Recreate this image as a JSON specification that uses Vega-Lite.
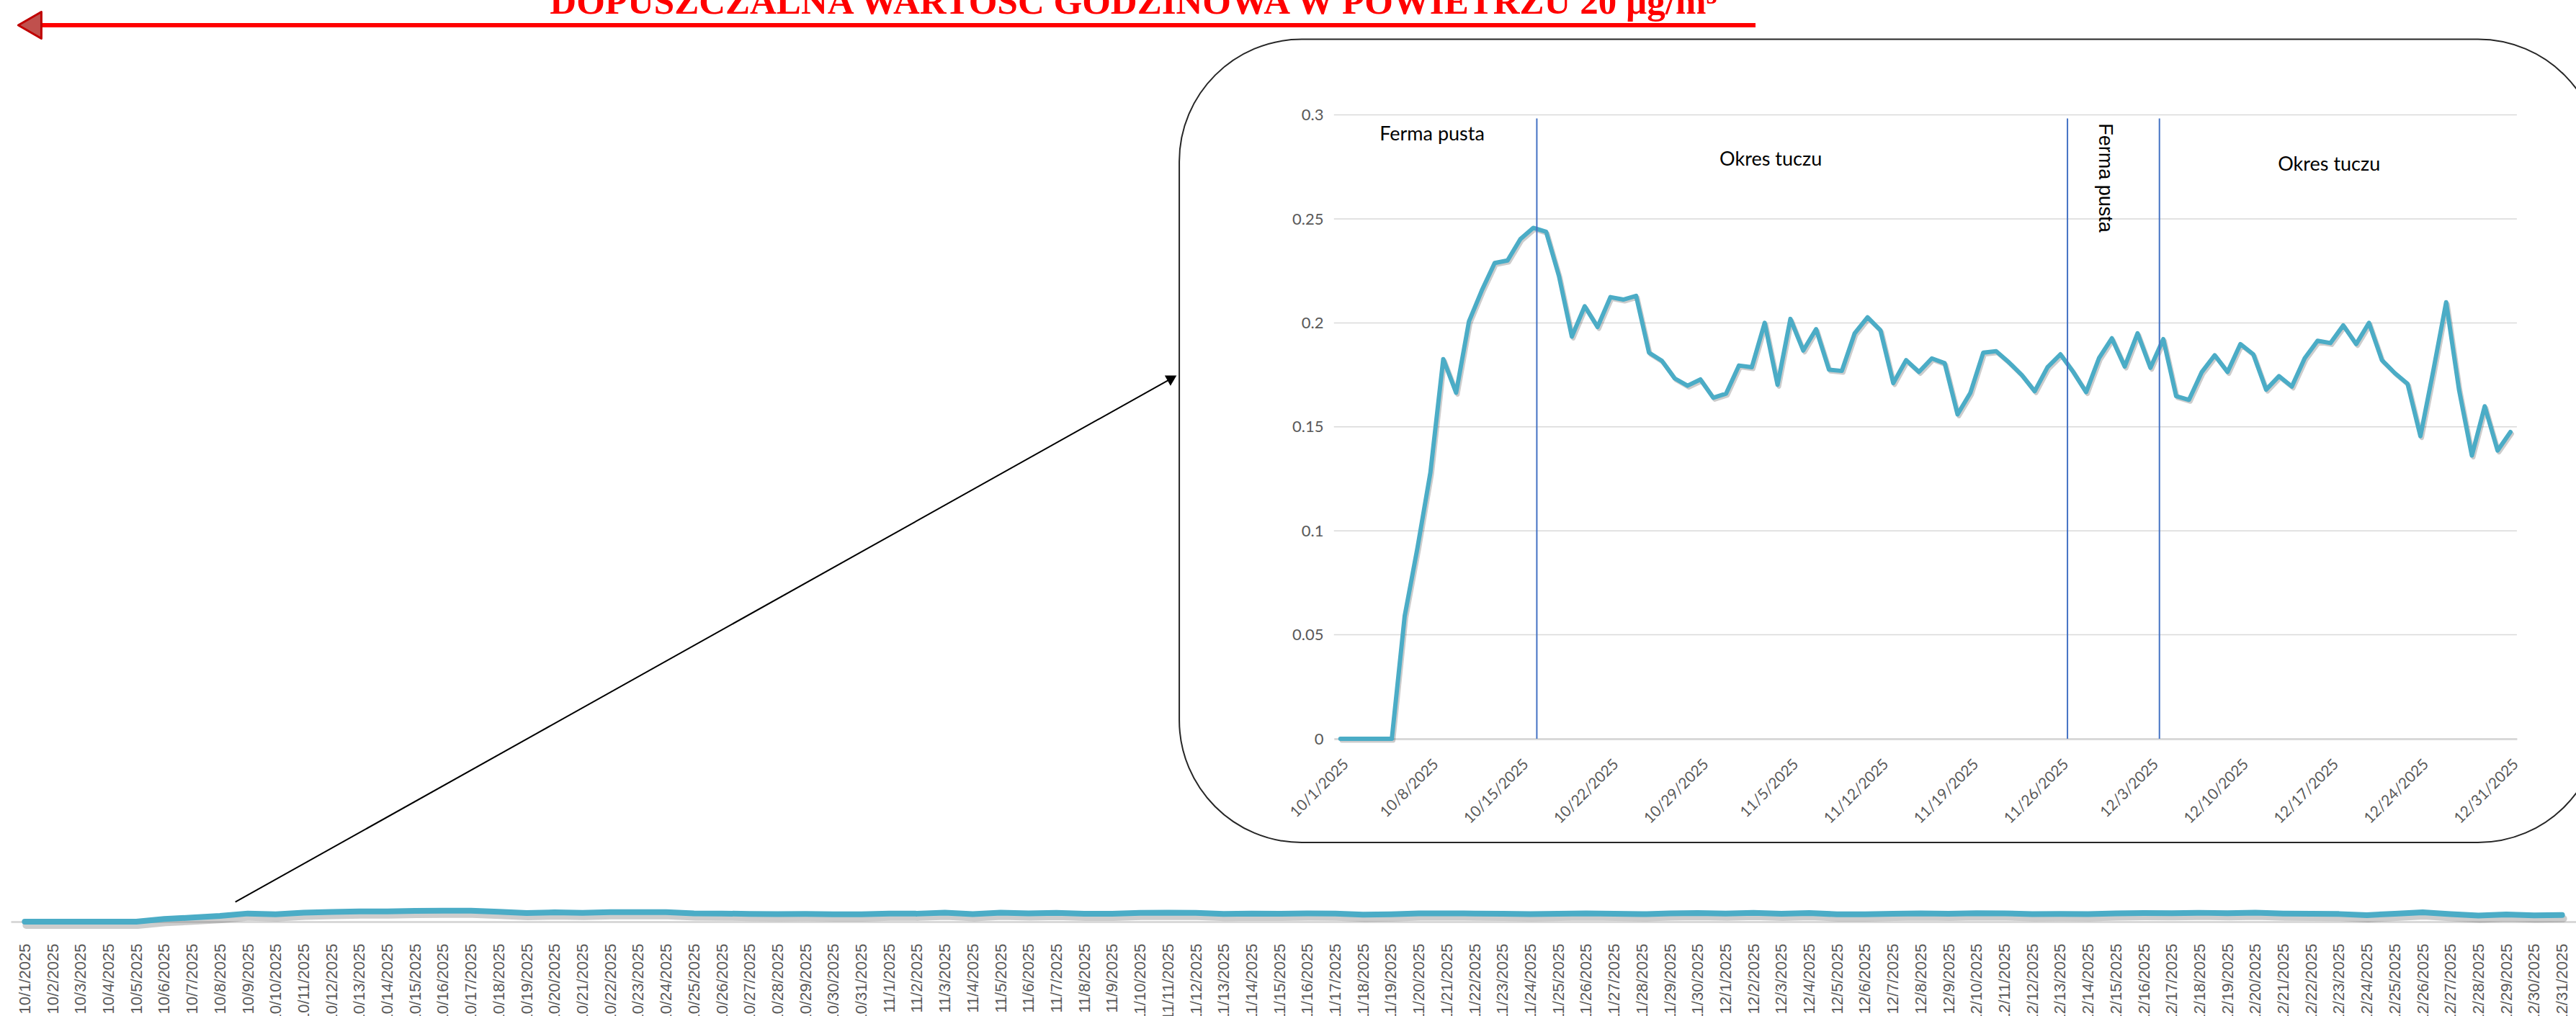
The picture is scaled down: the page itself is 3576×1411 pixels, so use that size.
{
  "$schema": "https://vega.github.io/schema/vega-lite/v6.json",
  "width": 3576,
  "height": 1411,
  "autosize": {"type": "none"},
  "padding": 0,
  "background": "white",
  "config": {"view": {"stroke": null}},
  "datasets": {
    "series": [
      {"date": "2025-10-01", "value": 0},
      {"date": "2025-10-02", "value": 0},
      {"date": "2025-10-03", "value": 0},
      {"date": "2025-10-04", "value": 0},
      {"date": "2025-10-05", "value": 0},
      {"date": "2025-10-06", "value": 0.059},
      {"date": "2025-10-07", "value": 0.092},
      {"date": "2025-10-08", "value": 0.128},
      {"date": "2025-10-09", "value": 0.1826},
      {"date": "2025-10-10", "value": 0.1664},
      {"date": "2025-10-11", "value": 0.2007},
      {"date": "2025-10-12", "value": 0.2156},
      {"date": "2025-10-13", "value": 0.2288},
      {"date": "2025-10-14", "value": 0.230},
      {"date": "2025-10-15", "value": 0.2403},
      {"date": "2025-10-16", "value": 0.2457},
      {"date": "2025-10-17", "value": 0.2438},
      {"date": "2025-10-18", "value": 0.2225},
      {"date": "2025-10-19", "value": 0.1934},
      {"date": "2025-10-20", "value": 0.208},
      {"date": "2025-10-21", "value": 0.198},
      {"date": "2025-10-22", "value": 0.2124},
      {"date": "2025-10-23", "value": 0.2112},
      {"date": "2025-10-24", "value": 0.213},
      {"date": "2025-10-25", "value": 0.1857},
      {"date": "2025-10-26", "value": 0.1818},
      {"date": "2025-10-27", "value": 0.1733},
      {"date": "2025-10-28", "value": 0.1698},
      {"date": "2025-10-29", "value": 0.1728},
      {"date": "2025-10-30", "value": 0.164},
      {"date": "2025-10-31", "value": 0.166},
      {"date": "2025-11-01", "value": 0.1795},
      {"date": "2025-11-02", "value": 0.1787},
      {"date": "2025-11-03", "value": 0.200},
      {"date": "2025-11-04", "value": 0.1702},
      {"date": "2025-11-05", "value": 0.2019},
      {"date": "2025-11-06", "value": 0.1867},
      {"date": "2025-11-07", "value": 0.197},
      {"date": "2025-11-08", "value": 0.1775},
      {"date": "2025-11-09", "value": 0.1769},
      {"date": "2025-11-10", "value": 0.195},
      {"date": "2025-11-11", "value": 0.2027},
      {"date": "2025-11-12", "value": 0.1965},
      {"date": "2025-11-13", "value": 0.171},
      {"date": "2025-11-14", "value": 0.1821},
      {"date": "2025-11-15", "value": 0.1764},
      {"date": "2025-11-16", "value": 0.1829},
      {"date": "2025-11-17", "value": 0.1806},
      {"date": "2025-11-18", "value": 0.156},
      {"date": "2025-11-19", "value": 0.1664},
      {"date": "2025-11-20", "value": 0.1857},
      {"date": "2025-11-21", "value": 0.1864},
      {"date": "2025-11-22", "value": 0.181},
      {"date": "2025-11-23", "value": 0.1749},
      {"date": "2025-11-24", "value": 0.1671},
      {"date": "2025-11-25", "value": 0.1787},
      {"date": "2025-11-26", "value": 0.1849},
      {"date": "2025-11-27", "value": 0.1764},
      {"date": "2025-11-28", "value": 0.1667},
      {"date": "2025-11-29", "value": 0.183},
      {"date": "2025-11-30", "value": 0.1926},
      {"date": "2025-12-01", "value": 0.179},
      {"date": "2025-12-02", "value": 0.195},
      {"date": "2025-12-03", "value": 0.1784},
      {"date": "2025-12-04", "value": 0.1922},
      {"date": "2025-12-05", "value": 0.1648},
      {"date": "2025-12-06", "value": 0.163},
      {"date": "2025-12-07", "value": 0.1764},
      {"date": "2025-12-08", "value": 0.1844},
      {"date": "2025-12-09", "value": 0.1764},
      {"date": "2025-12-10", "value": 0.1898},
      {"date": "2025-12-11", "value": 0.1849},
      {"date": "2025-12-12", "value": 0.1679},
      {"date": "2025-12-13", "value": 0.1744},
      {"date": "2025-12-14", "value": 0.1694},
      {"date": "2025-12-15", "value": 0.183},
      {"date": "2025-12-16", "value": 0.1914},
      {"date": "2025-12-17", "value": 0.1903},
      {"date": "2025-12-18", "value": 0.1988},
      {"date": "2025-12-19", "value": 0.1898},
      {"date": "2025-12-20", "value": 0.200},
      {"date": "2025-12-21", "value": 0.1821},
      {"date": "2025-12-22", "value": 0.1759},
      {"date": "2025-12-23", "value": 0.1707},
      {"date": "2025-12-24", "value": 0.1455},
      {"date": "2025-12-25", "value": 0.177},
      {"date": "2025-12-26", "value": 0.2099},
      {"date": "2025-12-27", "value": 0.1679},
      {"date": "2025-12-28", "value": 0.1362},
      {"date": "2025-12-29", "value": 0.1599},
      {"date": "2025-12-30", "value": 0.1386},
      {"date": "2025-12-31", "value": 0.1475}
    ]
  },
  "resolve": {
    "scale": {"x": "independent", "y": "independent"},
    "axis": {"x": "independent", "y": "independent"}
  },
  "layer": [
    {
      "data": {"name": "series"},
      "mark": {"type": "line", "color": "#6f6f6f", "opacity": 0.35, "strokeWidth": 10, "strokeJoin": "round", "strokeCap": "round"},
      "encoding": {
        "x": {"field": "date", "type": "temporal", "axis": null,
              "scale": {"type": "utc", "domain": [{"year": 2025, "month": 9, "date": 30, "hours": 12, "utc": true}, {"year": 2025, "month": 12, "date": 31, "hours": 12, "utc": true}], "range": [17, 3578]}},
        "y": {"field": "value", "type": "quantitative", "axis": null,
              "scale": {"domain": [0, 20], "range": [1285, 40], "nice": false, "zero": false}}
      }
    },
    {
      "layer": [
        {
          "data": {"name": "series"},
          "mark": {"type": "line", "color": "#4bacc6", "strokeWidth": 8, "strokeJoin": "round", "strokeCap": "round"},
          "encoding": {
            "x": {"field": "date", "type": "temporal",
                  "scale": {"type": "utc", "domain": [{"year": 2025, "month": 9, "date": 30, "hours": 12, "utc": true}, {"year": 2025, "month": 12, "date": 31, "hours": 12, "utc": true}], "range": [15, 3576]},
                  "axis": {"orient": "bottom", "offset": -131, "tickCount": {"interval": "day", "step": 1}, "format": "%-m/%-d/%Y", "labelAngle": -90,
                           "labelFont": "Liberation Sans", "labelFontSize": 22, "labelColor": "#595959", "labelPadding": 30,
                           "ticks": false, "tickSize": 0, "domainColor": "#d9d9d9", "domainWidth": 3, "grid": false, "title": null,
                           "labelOverlap": false, "labelFlush": false, "labelBound": false}},
            "y": {"field": "value", "type": "quantitative", "axis": null,
                  "scale": {"domain": [0, 20], "range": [1280, 35], "nice": false, "zero": false}}
          }
        },
        {
          "data": {"values": [{}]},
          "mark": {"type": "rule", "color": "#ff0000", "strokeWidth": 6},
          "encoding": {
            "x": {"datum": {"year": 2025, "month": 10, "date": 1, "hours": 4, "utc": true}, "type": "temporal"},
            "x2": {"datum": {"year": 2025, "month": 12, "date": 2, "hours": 1, "minutes": 45, "utc": true}},
            "y": {"datum": 20, "type": "quantitative"}
          }
        },
        {
          "data": {"values": [{}]},
          "mark": {"type": "point", "shape": "triangle-left", "size": 1369, "filled": true, "fill": "#c0504d", "stroke": "#c00000", "strokeWidth": 3, "strokeJoin": "round", "opacity": 1},
          "encoding": {
            "x": {"datum": {"year": 2025, "month": 10, "date": 1, "hours": 4, "minutes": 22, "utc": true}, "type": "temporal"},
            "y": {"datum": 20, "type": "quantitative"}
          }
        },
        {
          "data": {"values": [{}]},
          "mark": {"type": "text", "text": "DOPUSZCZALNA WARTOŚĆ GODZINOWA W POWIETRZU 20 µg/m³", "font": "Liberation Serif", "fontWeight": "bold", "fontSize": 51, "color": "#ff0000", "align": "left", "baseline": "alphabetic", "dy": -16},
          "encoding": {
            "x": {"datum": {"year": 2025, "month": 10, "date": 19, "hours": 20, "utc": true}, "type": "temporal"},
            "y": {"datum": 20, "type": "quantitative"}
          }
        },
        {
          "data": {"values": [{}]},
          "mark": {"type": "rule", "color": "#000000", "strokeWidth": 2},
          "encoding": {
            "x": {"datum": {"year": 2025, "month": 10, "date": 8, "hours": 13, "minutes": 16, "utc": true}, "type": "temporal"},
            "y": {"datum": 0.4386, "type": "quantitative"},
            "x2": {"datum": {"year": 2025, "month": 11, "date": 11, "hours": 3, "minutes": 35, "utc": true}},
            "y2": {"datum": 12.127}
          }
        },
        {
          "data": {"values": [{}]},
          "mark": {"type": "point", "shape": "triangle-right", "size": 270, "filled": true, "color": "#000000", "opacity": 1, "angle": 330.77},
          "encoding": {
            "x": {"datum": {"year": 2025, "month": 11, "date": 11, "hours": 3, "minutes": 35, "utc": true}, "type": "temporal"},
            "y": {"datum": 12.127, "type": "quantitative"}
          }
        }
      ]
    },
    {
      "layer": [
        {
          "data": {"values": [{}]},
          "mark": {"type": "rect", "filled": false, "stroke": "#262626", "strokeWidth": 2, "cornerRadius": 170},
          "encoding": {
            "x": {"datum": {"year": 2025, "month": 9, "date": 18, "hours": 11, "minutes": 17, "utc": true}, "type": "temporal", "axis": null,
                  "scale": {"type": "utc", "domain": [{"year": 2025, "month": 9, "date": 30, "hours": 12, "utc": true}, {"year": 2025, "month": 12, "date": 31, "hours": 12, "utc": true}], "range": [1851.8, 3493.9]}},
            "x2": {"datum": {"year": 2026, "month": 1, "date": 7, "utc": true}},
            "y": {"datum": 0.33637, "type": "quantitative", "axis": null,
                  "scale": {"domain": [0, 0.3], "range": [1026, 159.6], "nice": false, "zero": false}},
            "y2": {"datum": -0.04988}
          }
        },
        {
          "data": {"values": [{"v": 0.05}, {"v": 0.1}, {"v": 0.15}, {"v": 0.2}, {"v": 0.25}, {"v": 0.3}]},
          "mark": {"type": "rule", "color": "#d9d9d9", "strokeWidth": 1.5},
          "encoding": {
            "x": {"datum": {"year": 2025, "month": 9, "date": 30, "hours": 12, "utc": true}, "type": "temporal", "axis": null,
                  "scale": {"type": "utc", "domain": [{"year": 2025, "month": 9, "date": 30, "hours": 12, "utc": true}, {"year": 2025, "month": 12, "date": 31, "hours": 12, "utc": true}], "range": [1851.8, 3493.9]}},
            "x2": {"datum": {"year": 2025, "month": 12, "date": 31, "hours": 12, "utc": true}},
            "y": {"field": "v", "type": "quantitative", "axis": null,
                  "scale": {"domain": [0, 0.3], "range": [1026, 159.6], "nice": false, "zero": false}}
          }
        }
      ]
    },
    {
      "data": {"name": "series"},
      "mark": {"type": "line", "color": "#000000", "opacity": 0.2, "strokeWidth": 6, "strokeJoin": "round", "strokeCap": "round"},
      "encoding": {
        "x": {"field": "date", "type": "temporal", "axis": null,
              "scale": {"type": "utc", "domain": [{"year": 2025, "month": 9, "date": 30, "hours": 12, "utc": true}, {"year": 2025, "month": 12, "date": 31, "hours": 12, "utc": true}], "range": [1853.8, 3495.9]}},
        "y": {"field": "value", "type": "quantitative", "axis": null,
              "scale": {"domain": [0, 0.3], "range": [1028.5, 162.1], "nice": false, "zero": false}}
      }
    },
    {
      "layer": [
        {
          "data": {"name": "series"},
          "mark": {"type": "line", "color": "#4bacc6", "strokeWidth": 6, "strokeJoin": "round", "strokeCap": "round"},
          "encoding": {
            "x": {"field": "date", "type": "temporal",
                  "scale": {"type": "utc", "domain": [{"year": 2025, "month": 9, "date": 30, "hours": 12, "utc": true}, {"year": 2025, "month": 12, "date": 31, "hours": 12, "utc": true}], "range": [1851.8, 3493.9]},
                  "axis": {"orient": "bottom", "offset": -385,
                           "values": [
                             {"year": 2025, "month": 10, "date": 1, "utc": true},
                             {"year": 2025, "month": 10, "date": 8, "utc": true},
                             {"year": 2025, "month": 10, "date": 15, "utc": true},
                             {"year": 2025, "month": 10, "date": 22, "utc": true},
                             {"year": 2025, "month": 10, "date": 29, "utc": true},
                             {"year": 2025, "month": 11, "date": 5, "utc": true},
                             {"year": 2025, "month": 11, "date": 12, "utc": true},
                             {"year": 2025, "month": 11, "date": 19, "utc": true},
                             {"year": 2025, "month": 11, "date": 26, "utc": true},
                             {"year": 2025, "month": 12, "date": 3, "utc": true},
                             {"year": 2025, "month": 12, "date": 10, "utc": true},
                             {"year": 2025, "month": 12, "date": 17, "utc": true},
                             {"year": 2025, "month": 12, "date": 24, "utc": true},
                             {"year": 2025, "month": 12, "date": 31, "utc": true}
                           ],
                           "format": "%-m/%-d/%Y", "labelAngle": -45, "labelFont": "Lato", "labelFontSize": 21, "labelColor": "#595959",
                           "labelPadding": 24, "ticks": false, "tickSize": 0, "domainColor": "#d9d9d9", "domainWidth": 3,
                           "grid": false, "title": null, "labelOverlap": false, "labelFlush": false, "labelBound": false}},
            "y": {"field": "value", "type": "quantitative",
                  "scale": {"domain": [0, 0.3], "range": [1026, 159.6], "nice": false, "zero": false},
                  "axis": {"orient": "left", "offset": -1853, "values": [0, 0.05, 0.1, 0.15, 0.2, 0.25, 0.3], "format": "~g",
                           "labelFont": "Lato", "labelFontSize": 22, "labelColor": "#595959", "labelPadding": 16,
                           "ticks": false, "tickSize": 0, "domain": false, "grid": false, "title": null,
                           "labelOverlap": false, "labelFlush": false, "labelBound": false}}
          }
        },
        {
          "data": {"values": [
            {"date": "2025-10-16T06:40:00Z"},
            {"date": "2025-11-26T13:10:00Z"},
            {"date": "2025-12-03T16:50:00Z"}
          ]},
          "mark": {"type": "rule", "color": "#4472c4", "strokeWidth": 2},
          "encoding": {
            "x": {"field": "date", "type": "temporal",
                  "scale": {"type": "utc", "domain": [{"year": 2025, "month": 9, "date": 30, "hours": 12, "utc": true}, {"year": 2025, "month": 12, "date": 31, "hours": 12, "utc": true}], "range": [1851.8, 3493.9]}},
            "y": {"datum": 0, "type": "quantitative",
                  "scale": {"domain": [0, 0.3], "range": [1026, 159.6], "nice": false, "zero": false}},
            "y2": {"datum": 0.2983}
          }
        },
        {
          "data": {"values": [
            {"date": "2025-10-08T03:10:00Z", "value": 0.2906, "label": "Ferma pusta"},
            {"date": "2025-11-03T11:20:00Z", "value": 0.2785, "label": "Okres tuczu"},
            {"date": "2025-12-16T21:30:00Z", "value": 0.2761, "label": "Okres tuczu"}
          ]},
          "mark": {"type": "text", "font": "Lato", "fontSize": 27, "color": "#000000", "align": "center", "baseline": "middle"},
          "encoding": {
            "x": {"field": "date", "type": "temporal",
                  "scale": {"type": "utc", "domain": [{"year": 2025, "month": 9, "date": 30, "hours": 12, "utc": true}, {"year": 2025, "month": 12, "date": 31, "hours": 12, "utc": true}], "range": [1851.8, 3493.9]}},
            "y": {"field": "value", "type": "quantitative",
                  "scale": {"domain": [0, 0.3], "range": [1026, 159.6], "nice": false, "zero": false}},
            "text": {"field": "label"}
          }
        },
        {
          "data": {"values": [
            {"date": "2025-11-29T10:30:00Z", "value": 0.296, "label": "Ferma pusta"}
          ]},
          "mark": {"type": "text", "font": "Liberation Sans", "fontSize": 27, "color": "#000000", "align": "left", "baseline": "middle", "angle": 90},
          "encoding": {
            "x": {"field": "date", "type": "temporal",
                  "scale": {"type": "utc", "domain": [{"year": 2025, "month": 9, "date": 30, "hours": 12, "utc": true}, {"year": 2025, "month": 12, "date": 31, "hours": 12, "utc": true}], "range": [1851.8, 3493.9]}},
            "y": {"field": "value", "type": "quantitative",
                  "scale": {"domain": [0, 0.3], "range": [1026, 159.6], "nice": false, "zero": false}},
            "text": {"field": "label"}
          }
        }
      ]
    }
  ]
}
